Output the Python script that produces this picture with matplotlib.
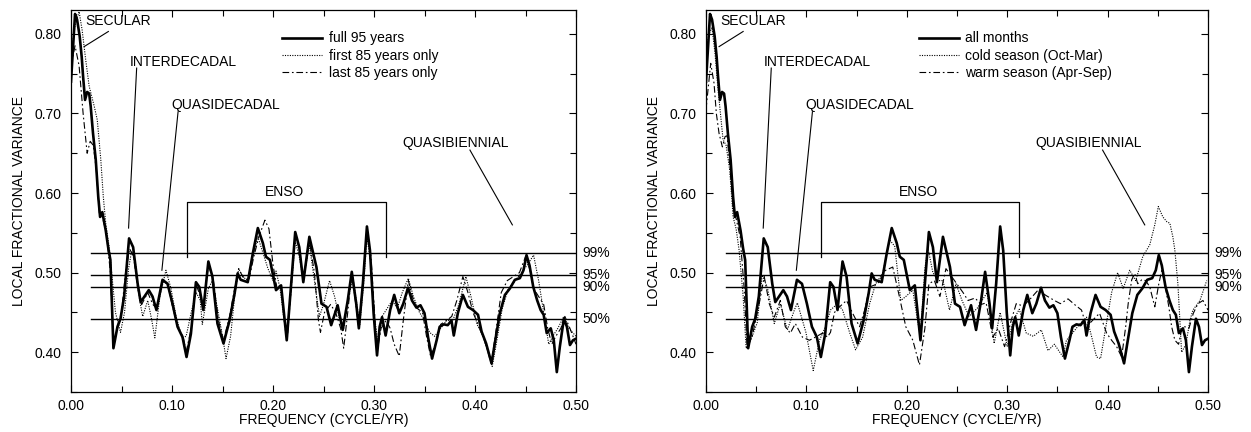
import matplotlib
matplotlib.use("Agg")
import matplotlib.pyplot as plt
from matplotlib.ticker import MultipleLocator, FormatStrFormatter

plt.rcParams['font.family'] = ['Liberation Sans', 'DejaVu Sans']
plt.rcParams['font.size'] = 10

# (frequency [cycle/yr], local fractional variance)
full_95_years = [
    (0.000, 0.740), (0.004, 0.825), (0.006, 0.818), (0.0086, 0.797), (0.0106, 0.771),
    (0.012, 0.746), (0.0139, 0.717), (0.016, 0.727), (0.018, 0.725), (0.0195, 0.709),
    (0.0218, 0.675), (0.0245, 0.642), (0.027, 0.595), (0.0288, 0.570), (0.031, 0.576),
    (0.0344, 0.553), (0.037, 0.530), (0.039, 0.516), (0.042, 0.405), (0.046, 0.432),
    (0.049, 0.442), (0.0526, 0.470), (0.0575, 0.543), (0.0615, 0.532), (0.066, 0.486),
    (0.069, 0.463), (0.077, 0.478), (0.0807, 0.470), (0.0846, 0.453), (0.0906, 0.491),
    (0.0956, 0.486), (0.1005, 0.461), (0.1055, 0.432), (0.1104, 0.419), (0.1144, 0.394),
    (0.1187, 0.423), (0.1237, 0.488), (0.127, 0.482), (0.131, 0.453), (0.136, 0.514),
    (0.140, 0.495), (0.145, 0.436), (0.151, 0.411), (0.157, 0.440), (0.162, 0.474),
    (0.165, 0.499), (0.168, 0.491), (0.175, 0.488), (0.180, 0.524), (0.185, 0.556),
    (0.190, 0.537), (0.193, 0.520), (0.197, 0.516), (0.203, 0.478), (0.208, 0.484),
    (0.2136, 0.415), (0.218, 0.486), (0.222, 0.551), (0.226, 0.532), (0.230, 0.488),
    (0.236, 0.545), (0.243, 0.507), (0.248, 0.461), (0.253, 0.457), (0.2576, 0.434),
    (0.264, 0.459), (0.269, 0.428), (0.274, 0.465), (0.278, 0.501), (0.2824, 0.461),
    (0.285, 0.430), (0.289, 0.486), (0.293, 0.558), (0.296, 0.528), (0.2996, 0.449),
    (0.303, 0.396), (0.3056, 0.432), (0.308, 0.444), (0.3115, 0.421), (0.316, 0.453),
    (0.320, 0.472), (0.325, 0.449), (0.329, 0.461), (0.3337, 0.481), (0.3376, 0.465),
    (0.342, 0.456), (0.346, 0.459), (0.350, 0.449), (0.3535, 0.419), (0.3575, 0.392),
    (0.362, 0.415), (0.365, 0.432), (0.369, 0.435), (0.373, 0.434), (0.3767, 0.440),
    (0.379, 0.421), (0.383, 0.449), (0.388, 0.472), (0.393, 0.457), (0.398, 0.453),
    (0.403, 0.447), (0.4065, 0.426), (0.411, 0.411), (0.4164, 0.386), (0.4196, 0.411),
    (0.4246, 0.449), (0.4296, 0.472), (0.4345, 0.480), (0.4395, 0.491), (0.4444, 0.493),
    (0.448, 0.503), (0.451, 0.522), (0.454, 0.509), (0.4577, 0.482), (0.4616, 0.465),
    (0.465, 0.453), (0.468, 0.447), (0.471, 0.424), (0.475, 0.430), (0.478, 0.415),
    (0.481, 0.375), (0.484, 0.407), (0.488, 0.442), (0.491, 0.432), (0.494, 0.409),
    (0.497, 0.415), (0.500, 0.417),
]

first_85_years = [
    (0.000, 0.775), (0.004, 0.810), (0.008, 0.828), (0.011, 0.805), (0.0146, 0.767),
    (0.018, 0.734), (0.023, 0.709), (0.026, 0.692), (0.0295, 0.642), (0.032, 0.595),
    (0.0344, 0.562), (0.038, 0.530), (0.044, 0.450), (0.049, 0.425), (0.053, 0.450),
    (0.057, 0.505), (0.060, 0.527), (0.064, 0.510), (0.068, 0.465), (0.071, 0.445),
    (0.076, 0.465), (0.080, 0.440), (0.083, 0.418), (0.088, 0.470), (0.094, 0.503),
    (0.099, 0.480), (0.104, 0.445), (0.110, 0.418), (0.114, 0.420), (0.119, 0.450),
    (0.124, 0.475), (0.128, 0.465), (0.130, 0.435), (0.136, 0.480), (0.140, 0.490),
    (0.145, 0.455), (0.150, 0.420), (0.1535, 0.392), (0.158, 0.420), (0.162, 0.470),
    (0.166, 0.505), (0.170, 0.495), (0.175, 0.490), (0.180, 0.520), (0.185, 0.545),
    (0.190, 0.525), (0.195, 0.505), (0.200, 0.490), (0.203, 0.502), (0.207, 0.480),
    (0.211, 0.440), (0.214, 0.425), (0.218, 0.480), (0.222, 0.540), (0.226, 0.520),
    (0.230, 0.490), (0.236, 0.535), (0.241, 0.490), (0.246, 0.445), (0.250, 0.460),
    (0.256, 0.490), (0.261, 0.470), (0.266, 0.440), (0.270, 0.430), (0.275, 0.470),
    (0.279, 0.495), (0.283, 0.460), (0.286, 0.435), (0.290, 0.490), (0.293, 0.545),
    (0.297, 0.510), (0.301, 0.440), (0.304, 0.410), (0.308, 0.445), (0.313, 0.455),
    (0.318, 0.465), (0.323, 0.455), (0.328, 0.475), (0.334, 0.493), (0.339, 0.470),
    (0.345, 0.450), (0.350, 0.440), (0.355, 0.425), (0.360, 0.420), (0.366, 0.430),
    (0.372, 0.440), (0.378, 0.440), (0.384, 0.460), (0.391, 0.495), (0.396, 0.470),
    (0.402, 0.435), (0.408, 0.420), (0.413, 0.400), (0.417, 0.382), (0.421, 0.410),
    (0.427, 0.455), (0.433, 0.480), (0.440, 0.490), (0.446, 0.500), (0.452, 0.510),
    (0.458, 0.522), (0.463, 0.490), (0.468, 0.450), (0.473, 0.410), (0.477, 0.420),
    (0.482, 0.430), (0.488, 0.445), (0.493, 0.430), (0.500, 0.420),
]

last_85_years = [
    (0.000, 0.760), (0.004, 0.785), (0.008, 0.760), (0.012, 0.700), (0.016, 0.650),
    (0.019, 0.665), (0.022, 0.660), (0.025, 0.630), (0.028, 0.575), (0.031, 0.570),
    (0.035, 0.550), (0.039, 0.500), (0.042, 0.410), (0.046, 0.430), (0.050, 0.450),
    (0.054, 0.500), (0.058, 0.530), (0.062, 0.520), (0.066, 0.480), (0.070, 0.460),
    (0.076, 0.475), (0.081, 0.460), (0.085, 0.455), (0.091, 0.490), (0.096, 0.485),
    (0.100, 0.460), (0.106, 0.430), (0.111, 0.420), (0.114, 0.400), (0.119, 0.430),
    (0.124, 0.485), (0.128, 0.470), (0.131, 0.455), (0.136, 0.510), (0.141, 0.490),
    (0.146, 0.440), (0.151, 0.415), (0.157, 0.445), (0.162, 0.480), (0.166, 0.505),
    (0.170, 0.495), (0.176, 0.490), (0.181, 0.520), (0.186, 0.545), (0.192, 0.566),
    (0.196, 0.555), (0.200, 0.510), (0.204, 0.480), (0.208, 0.480), (0.212, 0.430),
    (0.214, 0.415), (0.218, 0.480), (0.222, 0.550), (0.226, 0.530), (0.230, 0.490),
    (0.236, 0.540), (0.241, 0.500), (0.245, 0.440), (0.247, 0.425), (0.251, 0.450),
    (0.257, 0.460), (0.262, 0.450), (0.267, 0.430), (0.270, 0.405), (0.274, 0.450),
    (0.278, 0.500), (0.282, 0.460), (0.285, 0.430), (0.289, 0.490), (0.293, 0.555),
    (0.297, 0.520), (0.301, 0.440), (0.303, 0.400), (0.307, 0.430), (0.312, 0.440),
    (0.316, 0.430), (0.320, 0.410), (0.325, 0.395), (0.329, 0.440), (0.334, 0.490),
    (0.338, 0.470), (0.343, 0.455), (0.348, 0.450), (0.352, 0.420), (0.356, 0.395),
    (0.361, 0.410), (0.366, 0.435), (0.372, 0.440), (0.377, 0.445), (0.382, 0.465),
    (0.388, 0.495), (0.393, 0.475), (0.398, 0.450), (0.403, 0.435), (0.408, 0.420),
    (0.413, 0.400), (0.416, 0.385), (0.420, 0.420), (0.426, 0.475), (0.432, 0.490),
    (0.438, 0.495), (0.444, 0.500), (0.450, 0.520), (0.454, 0.505), (0.458, 0.480),
    (0.463, 0.470), (0.468, 0.460), (0.472, 0.430), (0.476, 0.410), (0.480, 0.420),
    (0.485, 0.430), (0.489, 0.445), (0.494, 0.430), (0.500, 0.410),
]

cold_season = [
    (0.000, 0.780), (0.003, 0.800), (0.006, 0.808), (0.009, 0.775), (0.012, 0.730),
    (0.017, 0.667), (0.020, 0.660), (0.0236, 0.629), (0.027, 0.570), (0.030, 0.555),
    (0.033, 0.528), (0.037, 0.470), (0.040, 0.405), (0.046, 0.420), (0.051, 0.437),
    (0.056, 0.497), (0.061, 0.482), (0.068, 0.436), (0.074, 0.461), (0.081, 0.428),
    (0.088, 0.453), (0.091, 0.462), (0.0995, 0.425), (0.1068, 0.377), (0.113, 0.415),
    (0.119, 0.432), (0.124, 0.453), (0.131, 0.461), (0.136, 0.453), (0.143, 0.425),
    (0.149, 0.403), (0.156, 0.419), (0.163, 0.461), (0.169, 0.486), (0.176, 0.499),
    (0.183, 0.541), (0.188, 0.533), (0.194, 0.465), (0.199, 0.470), (0.206, 0.478),
    (0.210, 0.445), (0.2135, 0.420), (0.218, 0.505), (0.221, 0.531), (0.226, 0.500),
    (0.231, 0.490), (0.236, 0.490), (0.2425, 0.453), (0.249, 0.486), (0.255, 0.465),
    (0.262, 0.445), (0.270, 0.455), (0.280, 0.475), (0.287, 0.411), (0.293, 0.450),
    (0.300, 0.407), (0.306, 0.440), (0.312, 0.454), (0.319, 0.424), (0.326, 0.420),
    (0.334, 0.428), (0.3406, 0.402), (0.347, 0.410), (0.3556, 0.394), (0.359, 0.415),
    (0.365, 0.424), (0.372, 0.435), (0.379, 0.444), (0.384, 0.420), (0.389, 0.394),
    (0.393, 0.392), (0.398, 0.430), (0.404, 0.475), (0.410, 0.500), (0.4155, 0.480),
    (0.422, 0.503), (0.428, 0.490), (0.435, 0.520), (0.442, 0.535), (0.447, 0.560),
    (0.4505, 0.583), (0.455, 0.570), (0.459, 0.564), (0.462, 0.562), (0.465, 0.545),
    (0.467, 0.528), (0.470, 0.486), (0.4737, 0.400), (0.478, 0.410), (0.482, 0.440),
    (0.485, 0.453), (0.492, 0.465), (0.4987, 0.490),
]

warm_season = [
    (0.000, 0.705), (0.0047, 0.763), (0.008, 0.738), (0.0103, 0.700), (0.013, 0.675),
    (0.0163, 0.658), (0.019, 0.671), (0.021, 0.672), (0.024, 0.630), (0.027, 0.580),
    (0.030, 0.568), (0.034, 0.545), (0.038, 0.480), (0.041, 0.405), (0.046, 0.420),
    (0.053, 0.461), (0.058, 0.495), (0.063, 0.461), (0.068, 0.444), (0.074, 0.465),
    (0.079, 0.432), (0.084, 0.424), (0.089, 0.436), (0.096, 0.419), (0.103, 0.415),
    (0.109, 0.419), (0.116, 0.424), (0.121, 0.419), (0.124, 0.425), (0.128, 0.450),
    (0.133, 0.457), (0.140, 0.465), (0.146, 0.449), (0.153, 0.432), (0.158, 0.453),
    (0.163, 0.482), (0.171, 0.486), (0.179, 0.503), (0.186, 0.507), (0.1926, 0.470),
    (0.199, 0.432), (0.206, 0.415), (0.2126, 0.384), (0.218, 0.430), (0.222, 0.486),
    (0.2275, 0.490), (0.233, 0.470), (0.239, 0.505), (0.2475, 0.490), (0.256, 0.475),
    (0.261, 0.465), (0.268, 0.468), (0.274, 0.460), (0.279, 0.462), (0.2857, 0.419),
    (0.291, 0.430), (0.2974, 0.407), (0.304, 0.440), (0.309, 0.461), (0.316, 0.458),
    (0.323, 0.467), (0.3307, 0.478), (0.339, 0.471), (0.347, 0.465), (0.353, 0.461),
    (0.3606, 0.467), (0.367, 0.460), (0.374, 0.453), (0.379, 0.432), (0.385, 0.440),
    (0.392, 0.449), (0.399, 0.424), (0.404, 0.415), (0.409, 0.407), (0.414, 0.394),
    (0.418, 0.432), (0.4205, 0.461), (0.424, 0.491), (0.427, 0.499), (0.430, 0.486),
    (0.434, 0.491), (0.438, 0.490), (0.442, 0.482), (0.447, 0.457), (0.451, 0.486),
    (0.454, 0.503), (0.457, 0.486), (0.461, 0.457), (0.4638, 0.432), (0.467, 0.415),
    (0.4707, 0.410), (0.474, 0.430), (0.477, 0.432), (0.481, 0.430), (0.4854, 0.449),
    (0.490, 0.461), (0.495, 0.465), (0.500, 0.453),
]

# significance levels of the local fractional variance
sig_labels = ["99%", "95%", "90%", "50%"]
sig_levels = [0.525, 0.497, 0.482, 0.442]

# ENSO band bracket: (f_start, f_end, v_bottom, v_top)
enso_band = (0.115, 0.312, 0.520, 0.589)

# band labels: text, text anchor (f, v), leader line start, leader line end
band_labels = [
    ("SECULAR",       (0.014, 0.816), (0.037, 0.803), (0.013, 0.784)),
    ("INTERDECADAL",  (0.058, 0.765), (0.065, 0.757), (0.057, 0.556)),
    ("QUASIDECADAL",  (0.099, 0.711), (0.106, 0.702), (0.090, 0.503)),
    ("QUASIBIENNIAL", (0.328, 0.663), (0.395, 0.654), (0.437, 0.560)),
]

left_series = [
    (full_95_years, "full 95 years", "solid"),
    (first_85_years, "first 85 years only", "dotted"),
    (last_85_years, "last 85 years only", "dashdot"),
]
right_series = [
    (full_95_years, "all months", "solid"),
    (cold_season, "cold season (Oct-Mar)", "dotted"),
    (warm_season, "warm season (Apr-Sep)", "dashdot"),
]

styles = {
    "solid": dict(color="black", lw=1.9, ls="-"),
    "dotted": dict(color="black", lw=0.8, ls=(0, (1, 1.2))),
    "dashdot": dict(color="black", lw=0.8, ls=(0, (6, 2.5, 1.5, 2.5))),
}

fig = plt.figure(figsize=(12.51, 4.32), dpi=100)
ax_left = fig.add_axes([71 / 1251, 1 - 392 / 432, (576 - 71) / 1251, 382 / 432])
ax_right = fig.add_axes([706 / 1251, 1 - 392 / 432, (1208 - 706) / 1251, 382 / 432])


def draw_panel(ax, series, legend_x):
    for pts, label, style in series:
        f = [p[0] for p in pts]
        v = [p[1] for p in pts]
        ax.plot(f, v, label=label, **styles[style], zorder=3)

    for lab, lev in zip(sig_labels, sig_levels):
        ax.plot([0.02, 0.5], [lev, lev], color="black", lw=1.0, zorder=2)
        ax.text(1.012, lev, lab, transform=ax.get_yaxis_transform(),
                ha="left", va="center", fontsize=10, clip_on=False)

    f0, f1, vb, vt = enso_band
    ax.plot([f0, f0, f1, f1], [vb, vt, vt, vb], color="black", lw=0.9)
    ax.text((f0 + f1) / 2 - 0.002, vt + 0.004, "ENSO", ha="center",
            va="bottom", fontsize=10)

    for text, (tx, ty), p0, p1 in band_labels:
        ax.text(tx, ty, text, ha="left", va="center", fontsize=10)
        ax.plot([p0[0], p1[0]], [p0[1], p1[1]], color="black", lw=0.8)

    ax.set_xlim(0.0, 0.5)
    ax.set_ylim(0.35, 0.83)
    ax.xaxis.set_major_locator(MultipleLocator(0.1))
    ax.xaxis.set_minor_locator(MultipleLocator(0.05))
    ax.yaxis.set_major_locator(MultipleLocator(0.1))
    ax.yaxis.set_minor_locator(MultipleLocator(0.05))
    ax.xaxis.set_major_formatter(FormatStrFormatter("%.2f"))
    ax.yaxis.set_major_formatter(FormatStrFormatter("%.2f"))
    ax.set_yticks([0.4, 0.5, 0.6, 0.7, 0.8])
    ax.tick_params(which="both", direction="in", top=True, right=True,
                   labelsize=10, width=0.8)
    ax.tick_params(which="major", length=5)
    ax.tick_params(axis="y", which="major", pad=7)
    ax.tick_params(axis="x", which="major", pad=5)
    ax.tick_params(which="minor", length=4)
    for sp in ax.spines.values():
        sp.set_linewidth(0.9)

    ax.set_xlabel("FREQUENCY (CYCLE/YR)", fontsize=10, labelpad=0)
    ax.set_ylabel("LOCAL FRACTIONAL VARIANCE", fontsize=10, labelpad=6)

    ax.legend(loc="upper left", bbox_to_anchor=(legend_x, 0.944),
              frameon=False, fontsize=10, handlelength=2.9,
              handletextpad=0.45, labelspacing=0.25, borderpad=0,
              borderaxespad=0)


draw_panel(ax_left, left_series, 0.418)
draw_panel(ax_right, right_series, 0.424)

fig.savefig("out.png", dpi=100)
